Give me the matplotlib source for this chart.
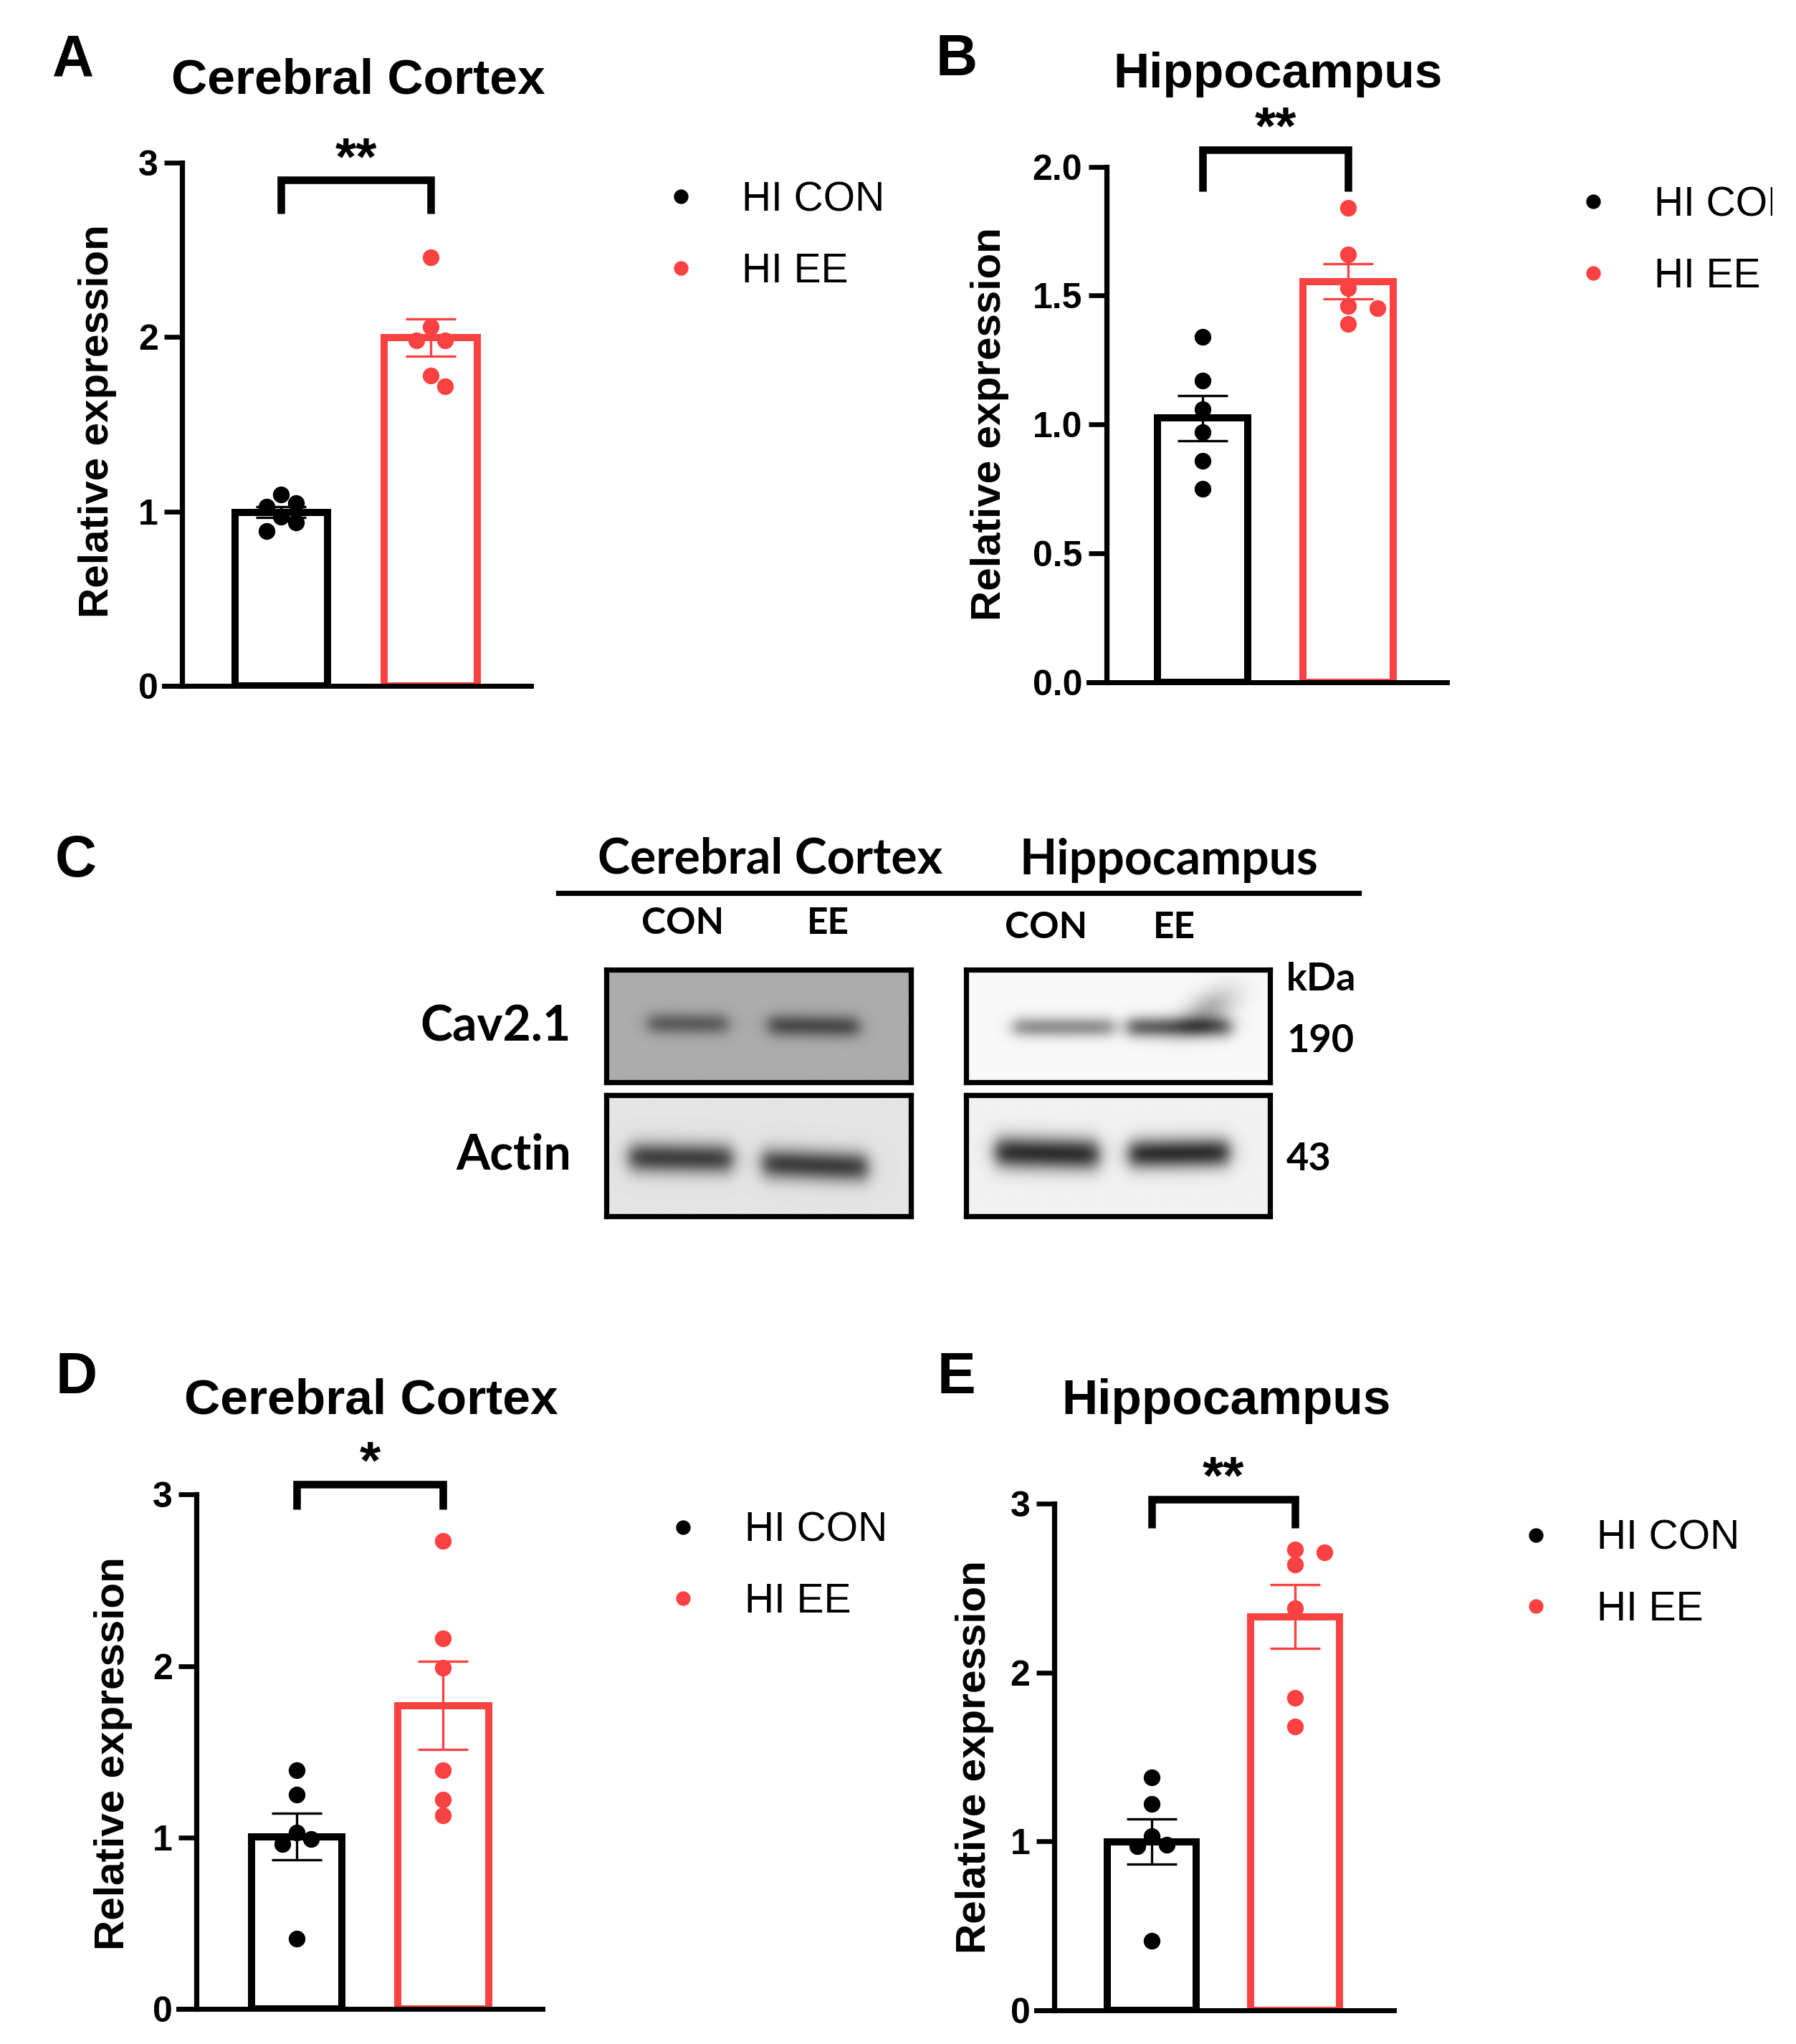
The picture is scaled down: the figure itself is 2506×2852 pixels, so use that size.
import numpy as np
import matplotlib
matplotlib.use("Agg")
import matplotlib.pyplot as plt
from matplotlib.lines import Line2D
from matplotlib.transforms import Bbox

# ------------------------------------------------------------------ data
groups = ["HI CON", "HI EE"]

# A  Cav2.1 mRNA - cerebral cortex
a_con = [1.03, 1.05, 1.10, 0.94, 0.97, 0.89]
a_ee = [2.46, 2.06, 1.98, 1.98, 1.78, 1.72]
# B  Cav2.1 mRNA - hippocampus
b_con = [1.34, 1.17, 1.06, 0.97, 0.86, 0.75]
b_ee = [1.84, 1.66, 1.53, 1.46, 1.45, 1.39]
# D  Cav2.1 protein - cerebral cortex
d_con = [1.39, 1.25, 1.03, 0.99, 0.96, 0.41]
d_ee = [2.73, 2.16, 1.99, 1.39, 1.22, 1.13]
# E  Cav2.1 protein - hippocampus
e_con = [1.38, 1.22, 1.03, 0.97, 0.98, 0.41]
e_ee = [2.71, 2.73, 2.64, 2.38, 1.85, 1.68]

sig_labels = ["**", "**", "*", "**"]
panel_titles = ["Cerebral Cortex", "Hippocampus", "Cerebral Cortex", "Hippocampus"]
panel_letters = ["A", "B", "C", "D", "E"]
ylabel_text = "Relative expression"

ticks_3 = [0, 1, 2, 3]
ticklabels_3 = ["0", "1", "2", "3"]
ticks_2 = [0.0, 0.5, 1.0, 1.5, 2.0]
ticklabels_2 = ["0.0", "0.5", "1.0", "1.5", "2.0"]

# western blot (panel C)
blot_regions = ["Cerebral Cortex", "Hippocampus"]
blot_lanes = ["CON", "EE"]
blot_proteins = ["Cav2.1", "Actin"]
blot_kda = ["190", "43"]
kda_label = "kDa"
# background grey level of each membrane strip
cav_cortex_bg, cav_hippo_bg = 0.675, 0.975
actin_cortex_bg, actin_hippo_bg = 0.895, 0.945
# band darkness per lane (CON, EE)
cav_cortex_bands = [0.31, 0.38]
cav_hippo_bands = [0.40, 0.58]
actin_cortex_bands = [0.64, 0.65]
actin_hippo_bands = [0.76, 0.76]
cav_hippo_smear = 0.28

# ------------------------------------------------------------------ style / layout
W_PX, H_PX, DPI = 2506, 2852, 200
RW, RH = 1380.0, 1570.0          # layout reference units
PT = DPI / 72.0

ARIAL = "Liberation Sans"
CAL = "Lato"
RED = "#fa4242"
BLACK = "#000000"

MS = 8.4
LEG_MS = 7.3
BAR_W = 0.62
BAR_LW = 3.6
SPINE_LW = 2.6
XAXIS_LW = 2.5
TICK_LEN = 9.0
TICK_W = 2.4
ERR_LW = 1.2
CAP = 12.6
BR_LW = 3.8
TICK_FS = 18
TITLE_FS = 25
LETTER_FS = 29
YLAB_FS = 21
LEG_FS = 20.5
STAR_FS = 27
SWARM_STEP = 1.75     # horizontal step between side-by-side dots (marker diameters)
SWARM_HIT = 0.9       # collision distance (marker diameters)
LEG_CLIP_X = 1362     # right edge at which panel B's legend text is cut

fig = plt.figure(figsize=(W_PX / DPI, H_PX / DPI), dpi=DPI, facecolor="white")


def fx(x):
    return x / RW


def fy(y):
    return 1.0 - y / RH


def swarm(ax, xc, vals, diam_px):
    tr = ax.transData
    inv = tr.inverted()
    v = np.asarray(vals, float)
    pts = tr.transform(np.column_stack([np.full(len(v), float(xc)), v]))
    order = np.argsort(-v, kind="stable")
    step = SWARM_STEP * diam_px
    hit = SWARM_HIT * diam_px
    steps = [0.0]
    for k in range(1, 16):
        steps += [0.5 * k * step, -0.5 * k * step]
    placed = []
    out = np.zeros(len(v))
    for i in order:
        px, py = pts[i]
        cx = px
        for st in steps:
            cx = px + st
            if all((cx - qx) ** 2 + (py - qy) ** 2 >= hit ** 2 for qx, qy in placed):
                break
        placed.append((cx, py))
        out[i] = inv.transform((cx, py))[0]
    return out


def bar_panel(L, con, ee, ticks, ticklabels, sig, title, letter, clip_legend=False):
    left, right = fx(L["spine"]), fx(L["xend"])
    bottom, top = fy(L["y0"]), fy(L["ytop"])
    ax = fig.add_axes([left, bottom, right - left, top - bottom])
    sp = L["c1"] - L["c0"]
    x0 = (L["spine"] - L["c0"]) / sp
    x1 = (L["xend"] - L["c0"]) / sp
    ax.set_xlim(x0, x1)
    ax.set_ylim(0, ticks[-1])
    ax.patch.set_alpha(0)
    for s in ("top", "right"):
        ax.spines[s].set_visible(False)
    ax.spines["left"].set_linewidth(SPINE_LW)
    ax.spines["bottom"].set_linewidth(XAXIS_LW)
    ax_w_px = (right - left) * W_PX
    ext = TICK_LEN * PT * (x1 - x0) / ax_w_px
    ax.spines["bottom"].set_bounds(x0 - ext, x1)
    ax.set_xticks([])
    ax.set_yticks(ticks)
    ax.set_yticklabels(ticklabels, fontfamily=ARIAL, fontweight="bold", fontsize=TICK_FS)
    ax.tick_params(axis="y", direction="out", length=TICK_LEN, width=TICK_W, pad=3)

    diam_px = MS * PT
    for i, (vals, col) in enumerate(zip((con, ee), (BLACK, RED))):
        vals = np.asarray(vals, float)
        m = vals.mean()
        sem = vals.std(ddof=1) / np.sqrt(len(vals))
        ax.bar(i, m, width=BAR_W, facecolor="white", edgecolor=col,
               linewidth=BAR_LW, zorder=2)
        ax.errorbar(i, m, yerr=sem, fmt="none", ecolor=col, elinewidth=ERR_LW,
                    capsize=CAP, capthick=ERR_LW, zorder=3)
        xs = swarm(ax, i, vals, diam_px)
        ax.scatter(xs, vals, s=MS ** 2, color=col, linewidths=0, zorder=4, clip_on=False)

    bt, bl = L["br_top"], L["br_leg"]
    ax.plot([0, 0, 1, 1], [bl, bt, bt, bl], color=BLACK, lw=BR_LW, clip_on=False,
            solid_joinstyle="miter", solid_capstyle="butt")
    ax.annotate(sig, xy=(0.5, bt), xytext=(0, 3.0), textcoords="offset points",
                ha="center", va="baseline", fontsize=STAR_FS, fontweight="bold",
                fontfamily=ARIAL, annotation_clip=False)

    fig.text(fx(L["title"][0]), fy(L["title"][1]), title, ha="center", va="baseline",
             fontsize=TITLE_FS, fontweight="bold", family=ARIAL)
    fig.text(fx(L["letter"][0]), fy(L["letter"][1]), letter, ha="left", va="baseline",
             fontsize=LETTER_FS, fontweight="bold", family=ARIAL)
    fig.text(fx(L["ylab"][0]), fy(L["ylab"][1]), ylabel_text, rotation=90,
             rotation_mode="anchor", ha="center", va="baseline",
             fontsize=YLAB_FS, fontweight="bold", family=ARIAL)

    handles = [Line2D([], [], ls="none", marker="o", markersize=LEG_MS,
                      markerfacecolor=c, markeredgecolor=c, markeredgewidth=0, label=g)
               for g, c in zip(groups, (BLACK, RED))]
    half_handle = 0.5 * LEG_FS * PT / W_PX
    lx = fx(L["leg"][0]) - half_handle
    ly = fy(0.5 * (L["leg"][1] + L["leg"][2]))
    leg = ax.legend(handles=handles, loc="center left", bbox_to_anchor=(lx, ly),
                    bbox_transform=fig.transFigure, frameon=False, borderpad=0,
                    borderaxespad=0, handlelength=1.0, handletextpad=1.0,
                    labelspacing=0.8, prop={"family": ARIAL, "size": LEG_FS})
    if clip_legend:
        cb = Bbox.from_extents(0, 0, fx(LEG_CLIP_X) * W_PX, H_PX)
        for t in leg.get_texts():
            t.set_clip_box(cb)
            t.set_clip_on(True)
    return ax


LA = dict(spine=140, xend=408, c0=216, c1=331, y0=527, ytop=125,
          br_top=2.90, br_leg=2.71, title=(275, 72), letter=(40, 58),
          ylab=(83, 323.5), leg=(523, 153.5, 208.7))
LB = dict(spine=850, xend=1112, c0=924, c1=1036, y0=524, ytop=128,
          br_top=2.066, br_leg=1.904, title=(982, 67), letter=(719, 58),
          ylab=(769, 325.4), leg=(1224, 157.5, 212.3))
LD = dict(spine=151, xend=417, c0=228, c1=340.5, y0=1543, ytop=1148,
          br_top=3.06, br_leg=2.916, title=(285, 1086), letter=(43, 1070),
          ylab=(95, 1346.7), leg=(525, 1176, 1230))
LE = dict(spine=810, xend=1071, c0=885, c1=995, y0=1544, ytop=1155,
          br_top=3.026, br_leg=2.857, title=(942, 1086), letter=(720, 1070),
          ylab=(757, 1349.4), leg=(1180, 1182.5, 1235.5))

bar_panel(LA, a_con, a_ee, ticks_3, ticklabels_3, sig_labels[0], panel_titles[0], panel_letters[0])
bar_panel(LB, b_con, b_ee, ticks_2, ticklabels_2, sig_labels[1], panel_titles[1], panel_letters[1],
          clip_legend=True)
bar_panel(LD, d_con, d_ee, ticks_3, ticklabels_3, sig_labels[2], panel_titles[2], panel_letters[3])
bar_panel(LE, e_con, e_ee, ticks_3, ticklabels_3, sig_labels[3], panel_titles[3], panel_letters[4])

# ------------------------------------------------------------------ panel C: blot
box_cols = [(466, 700), (742.5, 976)]
box_rows = [(745, 831), (841, 934)]

# lane geometry per strip: (centre x, half width, centre y from top, sigma y, tilt)
geom = {
    ("Cav2.1", 0): [(0.267, 0.130, 0.48, 0.070, 0.02), (0.682, 0.148, 0.50, 0.072, 0.04)],
    ("Cav2.1", 1): [(0.320, 0.165, 0.51, 0.065, 0.0), (0.700, 0.170, 0.51, 0.068, 0.0)],
    ("Actin", 0): [(0.244, 0.170, 0.52, 0.090, 0.04), (0.686, 0.173, 0.58, 0.090, 0.10)],
    ("Actin", 1): [(0.265, 0.170, 0.48, 0.095, 0.06), (0.700, 0.165, 0.48, 0.088, -0.04)],
}
bg_levels = {("Cav2.1", 0): cav_cortex_bg, ("Cav2.1", 1): cav_hippo_bg,
             ("Actin", 0): actin_cortex_bg, ("Actin", 1): actin_hippo_bg}
dark_levels = {("Cav2.1", 0): cav_cortex_bands, ("Cav2.1", 1): cav_hippo_bands,
               ("Actin", 0): actin_cortex_bands, ("Actin", 1): actin_hippo_bands}


def band_image(bg, lanes, darks, nx=260, ny=110, extra=None):
    x = np.linspace(0, 1, nx)[None, :]
    y = np.linspace(0, 1, ny)[:, None]
    img = np.full((ny, nx), float(bg))
    for (cx, hw, cy, sy, tilt), dk in zip(lanes, darks):
        px = 0.5 * (np.tanh((x - (cx - hw)) / 0.03) - np.tanh((x - (cx + hw)) / 0.03))
        yc = cy + tilt * (x - cx)
        py = np.exp(-0.5 * ((y - yc) / sy) ** 2)
        img = img - dk * px * py
    if extra is not None:
        cx, hw, cy, sy, dk = extra
        # smear rising from the band towards the upper right
        xc = cx + 0.25 * (0.5 - y)
        img = img - dk * np.exp(-0.5 * ((x - xc) / hw) ** 2) * np.exp(-0.5 * ((y - cy) / sy) ** 2)
    return np.clip(img, 0, 1)


for r, prot in enumerate(blot_proteins):
    for c in range(2):
        xa, xb = box_cols[c]
        ya, yb = box_rows[r]
        bax = fig.add_axes([fx(xa), fy(yb), (xb - xa) / RW, (yb - ya) / RH])
        extra = (0.76, 0.055, 0.36, 0.14, cav_hippo_smear) if (prot == "Cav2.1" and c == 1) else None
        img = band_image(bg_levels[(prot, c)], geom[(prot, c)], dark_levels[(prot, c)], extra=extra)
        bax.imshow(img, cmap="gray", vmin=0, vmax=1, aspect="auto",
                   extent=(0, 1, 0, 1), interpolation="bilinear")
        bax.set_xticks([])
        bax.set_yticks([])
        for s in bax.spines.values():
            s.set_linewidth(2.6)
            s.set_color(BLACK)

# headers
fig.text(fx(592), fy(671), blot_regions[0], ha="center", va="baseline",
         fontsize=24.5, fontweight="bold", family=CAL)
fig.text(fx(898), fy(671.5), blot_regions[1], ha="center", va="baseline",
         fontsize=24.5, fontweight="bold", family=CAL)
fig.add_artist(Line2D([fx(429), fx(1044)], [fy(685.7), fy(685.7)], color=BLACK,
                      lw=2.6, transform=fig.transFigure))
lane_pos = [(524.5, 717.4), (636, 717.4), (804, 720.6), (902, 720.6)]
for k, (px, py) in enumerate(lane_pos):
    fig.text(fx(px), fy(py), blot_lanes[k % 2], ha="center", va="baseline",
             fontsize=18.5, fontweight="bold", family=CAL)
fig.text(fx(439), fy(799.7), blot_proteins[0], ha="right", va="baseline",
         fontsize=24.5, fontweight="bold", family=CAL)
fig.text(fx(439), fy(898), blot_proteins[1], ha="right", va="baseline",
         fontsize=24.5, fontweight="bold", family=CAL)
fig.text(fx(988.5), fy(760.9), kda_label, ha="left", va="baseline",
         fontsize=19.5, fontweight="bold", family=CAL)
fig.text(fx(988.5), fy(808.3), blot_kda[0], ha="left", va="baseline",
         fontsize=19.5, fontweight="bold", family=CAL)
fig.text(fx(988.5), fy(899.1), blot_kda[1], ha="left", va="baseline",
         fontsize=19.5, fontweight="bold", family=CAL)
fig.text(fx(42), fy(673.2), panel_letters[2], ha="left", va="baseline",
         fontsize=LETTER_FS, fontweight="bold", family=ARIAL)

fig.savefig("out.png", dpi=DPI, facecolor="white")
